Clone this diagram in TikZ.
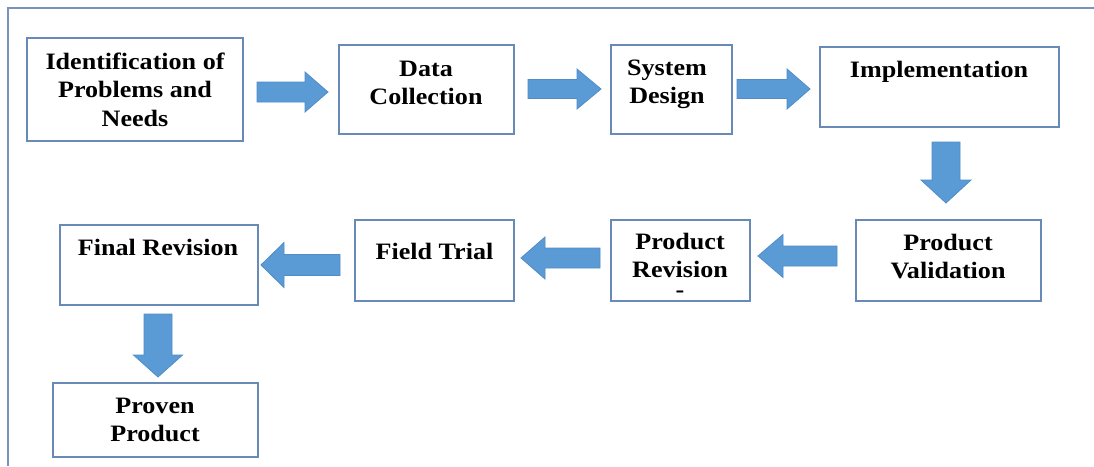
\documentclass[tikz,border=0pt]{standalone}
\usepackage{fontspec}
\setmainfont{Liberation Serif}[FakeStretch=1.11]
\definecolor{framecol}{RGB}{118,148,188}
\definecolor{boxcol}{RGB}{104,138,182}
\definecolor{arrfill}{RGB}{91,155,213}
\definecolor{arredge}{RGB}{80,140,200}
\tikzset{
  boxnode/.style={draw=boxcol, line width=1.7pt, fill=white, inner sep=0pt},
  txtnode/.style={anchor=north, inner sep=0pt, align=center,
    font=\fontsize{23.5}{28.5}\selectfont\bfseries},
  barrow/.style={fill=arrfill, draw=arredge, line width=0.8pt, line join=miter},
  framestyle/.style={draw=framecol, line width=1.8pt}
}
\newcommand{\blockarrow}[6]{%
  \begin{scope}[shift={#1},rotate=#2]
    \filldraw[barrow] (0,-#4) -- ({#3-#6},-#4) -- ({#3-#6},-#5) -- (#3,0)
      -- ({#3-#6},#5) -- ({#3-#6},#4) -- (0,#4) -- cycle;
  \end{scope}}
\newcommand{\boxat}[5]{% name, x1, y1, x2, y2
  \node[boxnode, minimum width={#4-#2}, minimum height={#5-#3}] (#1) at ({(#2+#4)/2},{(#3+#5)/2}) {};}
\begin{document}
\begin{tikzpicture}[x=1pt,y=-1pt]
\useasboundingbox[fill=white] (0,0) rectangle (1094,466);
\draw[framestyle] (1094,8) -- (8,8) -- (8,466);

% boxes
\boxat{b1}{27}{38}{243}{141}
\boxat{b2}{339}{45}{514}{134}
\boxat{b3}{611}{45}{732}{134}
\boxat{b4}{820}{47}{1059}{127}
\boxat{b5}{856}{220}{1041}{301}
\boxat{b6}{611}{220}{750}{301}
\boxat{b7}{355}{220}{514}{301}
\boxat{b8}{60}{225}{258}{305}
\boxat{b9}{53}{383}{258}{457}

% texts (north = first baseline - 18)
\node[txtnode] (t1) at (135,51) {\rule{0pt}{18pt}Identification of\\Problems and\\Needs};
\node[txtnode] (t2) at (426,58) {\rule{0pt}{18pt}Data\\Collection};
\node[txtnode] (t3) at (667,57) {\rule{0pt}{18pt}System\\Design};
\node[txtnode] (t4) at (939,59) {\rule{0pt}{18pt}Implementation};
\node[txtnode] (t5) at (948,232) {\rule{0pt}{18pt}Product\\Validation};
\node[txtnode] (t6) at (680,231) {\rule{0pt}{18pt}Product\\Revision\\[-9pt]-};
\node[txtnode] (t7) at (434.5,241) {\rule{0pt}{18pt}Field Trial};
\node[txtnode] (t8) at (158,237) {\rule{0pt}{18pt}Final Revision};
\node[txtnode] (t9) at (155,395) {\rule{0pt}{18pt}Proven\\Product};

% block arrows: start, angle, length, shaft half, head half, head length
\blockarrow{(257,92)}{0}{71}{10}{20}{23}
\blockarrow{(528,89)}{0}{73}{9.5}{20}{24}
\blockarrow{(737,89)}{0}{73}{9.5}{20}{23}
\blockarrow{(946,142)}{-90}{61}{14}{25}{23}
\blockarrow{(837,256)}{180}{79}{10}{21.5}{25}
\blockarrow{(600,258)}{180}{79}{10}{21}{24}
\blockarrow{(340,265)}{180}{79}{10.5}{22.5}{23}
\blockarrow{(158,314)}{-90}{63}{14}{24.5}{22}
\end{tikzpicture}
\end{document}
